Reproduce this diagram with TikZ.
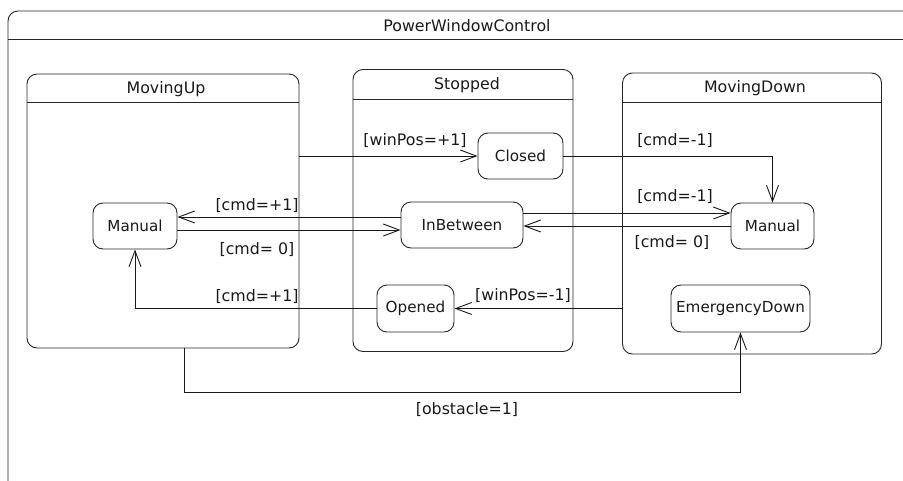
\documentclass[tikz,border=0pt]{standalone}
\usepackage{fontspec}
\setmainfont{DejaVu Sans}
\usetikzlibrary{arrows.meta}
\begin{document}
\begin{tikzpicture}[x=1pt,y=-1pt,
  line width=0.9pt,
  every node/.style={font=\fontsize{15.8}{18}\selectfont, inner sep=0pt, text=black!90},
  comp/.style={draw=black!85, rounded corners=10pt},
  simple/.style={draw=black!85, rounded corners=10pt, minimum height=46pt, font=\fontsize{15.2}{18}\selectfont},
  arr/.style={draw=black!90, -{Straight Barb[length=16pt,width=12pt]}}]
\useasboundingbox (0,0) rectangle (903,480);
\clip (0,0) rectangle (903,480);
% outer frame
\node[comp, minimum width=918pt, minimum height=480pt] (frame) at (467,251) {};
\draw[black!85] ([yshift=-29pt]frame.north west) -- ([yshift=-29pt]frame.north east);
\node (ftitle) at (467,26) {PowerWindowControl};
% composite states
\node[comp, minimum width=272pt, minimum height=274pt] (up) at (163,211) {};
\draw[black!85] ([yshift=-29pt]up.north west) -- ([yshift=-29pt]up.north east);
\node (uptitle) at (166,89) {MovingUp};
\node[comp, minimum width=220pt, minimum height=282pt] (stop) at (463,210.5) {};
\draw[black!85] ([yshift=-30pt]stop.north west) -- ([yshift=-30pt]stop.north east);
\node (stoptitle) at (467,85) {Stopped};
\node[comp, minimum width=259pt, minimum height=281pt] (down) at (752,213.5) {};
\draw[black!85] ([yshift=-30pt]down.north west) -- ([yshift=-30pt]down.north east);
\node (downtitle) at (755,88) {MovingDown};
% simple states
\node[simple, minimum width=84pt] (mu) at (135,226) {Manual};
\node[simple, minimum width=85pt] (closed) at (520.5,156) {Closed};
\node[simple, minimum width=122pt] (inb) at (462,225) {InBetween};
\node[simple, minimum width=77pt, minimum height=47pt] (opened) at (415.5,308.5) {Opened};
\node[simple, minimum width=83pt] (md) at (772.5,226) {Manual};
\node[simple, minimum width=139pt, minimum height=47pt] (emd) at (740.5,308.5) {EmergencyDown};
% helper levels
\coordinate (y213) at (0,213);
\coordinate (y226) at (0,226);
\coordinate (y217) at (0,217);
\coordinate (y230) at (0,230);
\coordinate (b1) at (184,392);
% transitions
\draw[arr] (up.east |- closed.west) -- (closed.west);
\draw[arr] (closed.east) -| (md.north);
\draw[arr] (inb.east |- y213) -- (md.west |- y213);
\draw[arr] (md.west |- y226) -- (inb.east |- y226);
\draw[arr] (inb.west |- y217) -- (mu.east |- y217);
\draw[arr] (mu.east |- y230) -- (inb.west |- y230);
\draw[arr] (down.west |- opened.east) -- (opened.east);
\draw[arr] (opened.west) -| (mu.south);
\draw[arr] (b1 |- up.south) -- (b1) -| (emd.south);
% labels
\node (l1) at (415,141) {[winPos=+1]};
\node (l2) at (675,141) {[cmd=-1]};
\node (l3) at (675,197) {[cmd=-1]};
\node (l4) at (672,243) {[cmd= 0]};
\node (l5) at (257,206) {[cmd=+1]};
\node (l6) at (257,250) {[cmd= 0]};
\node (l7) at (257,297) {[cmd=+1]};
\node (l8) at (523,296) {[winPos=-1]};
\node (l9) at (467,410) {[obstacle=1]};
\end{tikzpicture}
\end{document}
